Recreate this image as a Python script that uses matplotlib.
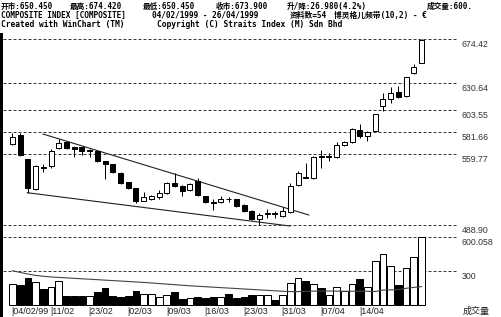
import matplotlib
matplotlib.use('Agg')
import matplotlib.pyplot as plt
from matplotlib.patches import Rectangle

# ---------------- data ----------------
opens = [569.4, 578.7, 554.4, 524.4, 546.3, 547.7, 565.4, 571.7, 567.0, 566.4,
         562.5, 563.0, 552.7, 549.4, 541.0, 531.7, 525.4, 513.0, 515.0, 516.4,
         520.4, 531.0, 528.0, 523.7, 532.7, 517.7, 511.8, 512.0, 514.7, 514.4,
         508.7, 503.0, 494.4, 500.2, 500.4, 498.0, 502.0, 528.7, 536.4, 535.4,
         557.3, 557.0, 557.0, 568.7, 571.4, 583.7, 577.7, 583.0, 608.0, 614.7,
         622.0, 618.0, 640.4, 650.45]
highs = [581.0, 581.0, 554.4, 548.5, 549.4, 564.7, 574.4, 573.0, 567.5, 567.0,
         565.0, 564.0, 553.0, 550.0, 541.5, 532.0, 525.8, 522.0, 518.7, 523.7,
         532.0, 540.4, 528.5, 531.0, 536.0, 518.0, 514.4, 517.7, 517.0, 515.0,
         509.5, 503.5, 500.4, 504.4, 502.7, 507.0, 530.4, 543.0, 550.7, 558.0,
         563.7, 560.4, 571.4, 573.0, 585.7, 589.4, 583.0, 600.0, 620.4, 627.0,
         628.0, 637.0, 649.7, 674.42]
lows = [569.0, 557.7, 521.0, 524.0, 541.4, 546.0, 565.0, 565.0, 556.4, 558.7,
        557.0, 552.0, 534.7, 541.0, 530.0, 525.0, 510.4, 513.0, 513.7, 514.7,
        520.0, 527.0, 517.7, 523.0, 518.0, 511.0, 503.7, 511.0, 512.0, 507.0,
        502.0, 494.0, 488.9, 495.4, 495.7, 497.0, 501.0, 528.0, 535.7, 535.0,
        546.0, 552.7, 556.0, 567.7, 571.0, 575.4, 572.7, 582.4, 602.7, 610.4,
        616.0, 617.0, 640.0, 650.45]
closes = [577.0, 558.7, 526.0, 547.7, 546.0, 562.7, 571.0, 566.0, 565.0, 562.7,
          563.5, 553.0, 549.4, 541.4, 530.4, 525.4, 512.7, 516.4, 517.4, 520.4,
          531.0, 527.7, 522.7, 529.4, 518.7, 512.0, 511.2, 515.0, 514.3, 507.7,
          503.0, 494.4, 498.4, 500.5, 500.0, 503.0, 527.7, 540.4, 536.0, 557.0,
          557.0, 557.4, 568.7, 572.0, 584.7, 577.7, 581.4, 599.4, 614.7, 620.4,
          616.4, 636.4, 647.0, 673.9]
volumes = [185, 179, 238, 203, 141, 159, 217, 82, 85, 85,
           82, 115, 150, 82, 76, 82, 129, 100, 103, 71,
           91, 115, 59, 65, 71, 68, 71, 76, 97, 68,
           76, 88, 91, 91, 47, 91, 194, 238, 217, 185,
           150, 88, 165, 126, 185, 232, 165, 394, 450, 347,
           179, 332, 429, 600.058]
vol_avg = [305, 290, 276, 264, 256, 250, 246, 242, 238, 234,
           230, 226, 222, 218, 214, 210, 206, 202, 197, 192,
           187, 182, 177, 172, 168, 164, 160, 156, 152, 148,
           144, 140, 136, 132, 128, 124, 121, 121, 123, 125,
           126, 126, 125, 124, 124, 124, 124, 122, 134, 136,
           138, 150, 158, 165]
price_levels = [674.42, 630.64, 603.55, 581.66, 559.77, 488.90]
price_labels = ['674.42', '630.64', '603.55', '581.66', '559.77', '488.90']
vol_levels = [600.058, 300]
vol_labels = ['600.058', '300']
date_idx = [0, 5, 10, 15, 20, 25, 30, 35, 40, 45]
date_labels = ['|04/02/99', '|11/02', '|23/02', '|02/03', '|09/03', '|16/03',
               '|23/03', '|31/03', '|07/04', '|14/04']
upper_trend_x = [3.95, 38.4]
upper_trend_y = [579.7, 498.7]
lower_trend_x = [1.92, 35.96]
lower_trend_y = [521.0, 487.7]

header1 = [("开市:650.450", 1), ("最高:674.420", 70), ("最低:650.450", 143),
           ("收市:673.900", 216), ("升/降:26.980(4.2%)", 287), ("成交量:600.", 427)]
header2 = [("COMPOSITE INDEX [COMPOSITE]", 1), ("04/02/1999 - 26/04/1999", 152),
           ("资料数=54", 290), ("博灵格儿频带(10,2) - €", 334)]
header3 = [("Created with WinChart (TM)", 1),
           ("Copyright (C) Straits Index (M) Sdn Bhd", 157)]

# ---------------- layout ----------------
W, H = 502, 317
PITCH = 7.717
X0 = 12.5
PRICE_AT_TOP = 713.72        # price value at pixel row 0
VOL_ZERO_PX = 305.3
VOL_PER_PX = 8.824
LW = 0.72

fig = plt.figure(figsize=(W / 100, H / 100), dpi=100)
fig.patch.set_facecolor('white')

xlim = (-X0 / PITCH, (W - X0) / PITCH)
axp = fig.add_axes([0, 1 - 230 / H, 1, 198 / H])
axp.set_xlim(*xlim)
axp.set_ylim(PRICE_AT_TOP - 230, PRICE_AT_TOP - 32)
axp.axis('off')

axv = fig.add_axes([0, 0, 1, 87 / H])
axv.set_xlim(*xlim)
axv.set_ylim((VOL_ZERO_PX - 317) * VOL_PER_PX, (VOL_ZERO_PX - 230) * VOL_PER_PX)
axv.axis('off')

def px2x(px):
    return (px - X0) / PITCH

line_x0, line_x1 = px2x(3), px2x(458)
label_x = px2x(462)
dash = (0, (3, 2))
grid_col = '#3a3a3a'
lab_font = ['Liberation Sans', 'DejaVu Sans']

for lv, lb in zip(price_levels, price_labels):
    axp.plot([line_x0, line_x1], [lv, lv], color=grid_col, lw=LW, ls=dash, zorder=1)
    axp.text(label_x, lv - 1.0, lb, ha='left', va='top', fontsize=6.3,
             family=lab_font, color='#333333')
for lv, lb in zip(vol_levels, vol_labels):
    axv.plot([line_x0, line_x1], [lv, lv], color=grid_col, lw=LW, ls=dash, zorder=1)
    axv.text(label_x, lv - 1.0 * VOL_PER_PX, lb, ha='left', va='top', fontsize=6.3,
             family=lab_font, color='#333333')

# trend lines
axp.plot(upper_trend_x, upper_trend_y, color='#222222', lw=0.8, zorder=2)
axp.plot(lower_trend_x, lower_trend_y, color='#222222', lw=0.8, zorder=2)

# candles
n = len(opens)
xs = list(range(n))
axp.vlines(xs, lows, highs, color='black', lw=LW, zorder=3)
for i in xs:
    o, c = opens[i], closes[i]
    up = c >= o
    axp.bar(i, abs(c - o), width=0.65, bottom=min(o, c),
            color='white' if up else 'black', edgecolor='black', lw=LW, zorder=4)

# volume
for i in xs:
    up = closes[i] >= opens[i]
    axv.bar(i, volumes[i], width=0.88, bottom=0,
            color='white' if up else 'black', edgecolor='black', lw=LW, zorder=3)
axv.plot(xs, vol_avg, color='#444444', lw=0.8, zorder=4)

# date labels
for di, dl in zip(date_idx, date_labels):
    axv.text(di - 0.12, (VOL_ZERO_PX - 311) * VOL_PER_PX, dl, ha='left', va='center',
             fontsize=6.5, family=lab_font, color='#222222')
fig.text(463 / W, 1 - 311 / H, '成交量', ha='left', va='center', fontsize=6.5,
         family=['Noto Sans CJK SC', 'DejaVu Sans'], color='#222222')

# header
hdr_font = ['DejaVu Sans Mono', 'Noto Sans CJK SC']
for row, ypx, fs in ((header1, 6, 5.5), (header2, 15.5, 5.6), (header3, 24.5, 5.7)):
    for txt, xpx in row:
        fig.text(xpx / W, 1 - ypx / H, txt, ha='left', va='center', fontsize=fs,
                 family=hdr_font, fontweight='bold', color='black')

# left black edge
fig.patches.append(Rectangle((0, 0), 2.7 / W, 1 - 33 / H, transform=fig.transFigure,
                             facecolor='black', edgecolor='none'))

fig.savefig('out.png', dpi=100)
